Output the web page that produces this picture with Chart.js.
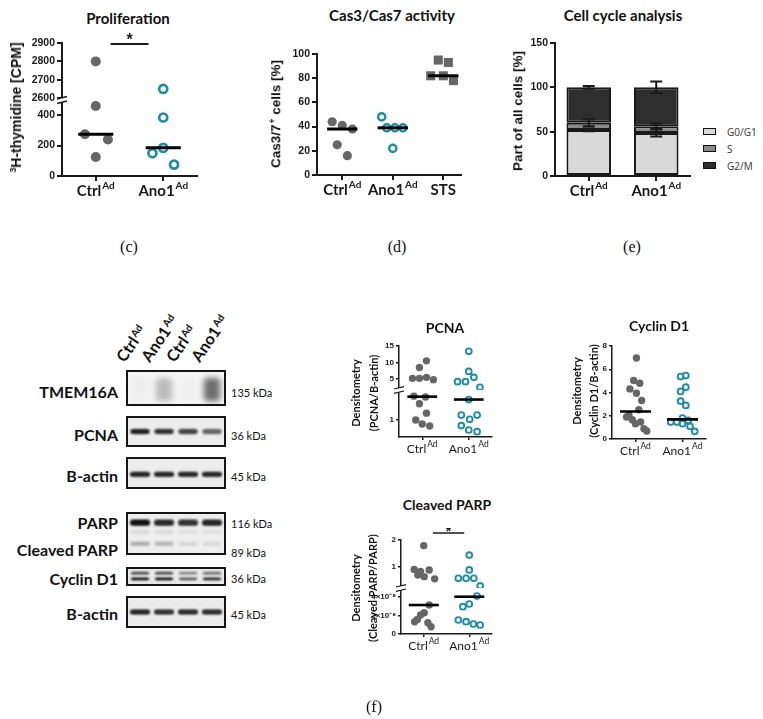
<!DOCTYPE html>
<html><head><meta charset="utf-8">
<script src="https://cdn.jsdelivr.net/npm/chart.js"></script>
<style>
body{margin:0;background:#fff;}
#page{position:relative;width:763px;height:719px;overflow:hidden;font-family:Lato,sans-serif;color:#111}
canvas{position:absolute}
.t{position:absolute;white-space:nowrap;transform:translate(-50%,-50%);line-height:1}
.t sup{font-size:0.62em;vertical-align:0;position:relative;top:-0.55em;margin-left:1px}
</style></head><body><div id="page"></div>
<script>
// ---- data ----
const groups = ['Ctrl', 'Ano1'];
const groupSup = ['Ad', 'Ad'];

// (c) proliferation
const prolifCtrl = [2800, 460, 275, 240, 125];
const prolifCtrlJit = [0, 0, -0.16, 0.18, 0];
const prolifAno = [2650, 385, 185, 150, 75];
const prolifAnoJit = [0, 0, 0, -0.16, 0.16];
const prolifMedian = [275, 186];
const prolifTicksHi = [2600, 2700, 2800, 2900];
const prolifTicksLo = [0, 200, 400];

// (d) Cas3/Cas7
const casGroups = ['Ctrl', 'Ano1', 'STS'];
const casSup = ['Ad', 'Ad', ''];
const casCtrl = [44, 41, 38, 25, 16];
const casCtrlJit = [-0.2, 0, 0.2, -0.1, 0.1];
const casAno = [48, 39, 39, 39, 22];
const casAnoJit = [-0.22, -0.12, 0.04, 0.2, 0];
const casSts = [95, 93, 82, 82, 78];
const casStsJit = [-0.1, 0.1, -0.25, 0, 0.2];
const casMedian = [38, 39, 82];
const casTicks = [0, 20, 40, 60, 80, 100];

// (e) cell cycle
const phases = ['G0/G1', 'S', 'G2/M'];
const g0g1 = [52, 48.5];
const g0g1Err = [1.5, 4];
const sPhase = [8, 7.5];
const sErr = [4, 3];
const g2m = [40, 44];
const g2mErr = [1.5, 6.5];
const cycleTicks = [0, 50, 100, 150];

// (f) western blot band intensities per lane
const lanes = ['Ctrl', 'Ano1', 'Ctrl', 'Ano1'];
const tmemBand = [0.03, 0.25, 0.02, 0.6];
const pcnaBand = [0.95, 0.85, 0.78, 0.62];
const actinBand1 = [0.92, 0.9, 0.9, 0.9];
const parpBand = [1, 0.88, 0.85, 0.9];
const parpFaint = [0.1, 0.1, 0.08, 0.08];
const cleavedBand = [0.35, 0.3, 0.12, 0.1];
const cyclinUpper = [0.65, 0.65, 0.4, 0.5];
const cyclinLower = [0.9, 0.9, 0.6, 0.8];
const actinBand2 = [0.9, 0.85, 0.88, 0.88];

// (f) PCNA
const pcnaCtrl = [10.5, 8.5, 5.2, 5.2, 5.5, 4.8, 2.4, 2.35, 1.95, 1.4, 1.0, 0.76, 0.65];
const pcnaCtrlJit = [0.09, -0.06, -0.21, -0.06, 0.09, 0.24, -0.18, 0.07, -0.06, 0.09, -0.14, 0, 0.16];
const pcnaAno = [13.4, 7.3, 5.5, 4.2, 4.2, 2.5, 2.2, 1.29, 1.29, 1.04, 0.67, 0.41, 0.31];
const pcnaAnoJit = [0, 0, 0.11, -0.24, -0.07, 0.24, 0, -0.16, 0.18, 0.02, -0.16, 0, 0.18];
const pcnaMedian = [2.37, 2.2];
const pcnaTicksHi = [5, 10, 15];
const pcnaTicksLo = [1];

// (f) Cyclin D1
const cycCtrl = [6.97, 5.03, 4.8, 4.31, 3.94, 3.31, 2.51, 2.1, 1.89, 1.66, 1.46, 1.31, 0.89, 0.69];
const cycCtrlJit = [0.02, -0.04, 0.09, -0.12, 0.02, 0.13, 0.07, -0.14, -0.19, -0.07, 0.11, 0, 0.18, 0.24];
const cycAno = [5.46, 5.37, 4.46, 4.09, 3.26, 2.89, 1.8, 1.6, 1.46, 1.46, 1.31, 1.09, 0.66];
const cycAnoJit = [0.07, -0.04, 0.07, -0.04, -0.04, 0.07, 0, 0.12, -0.25, -0.12, 0, 0.16, 0.26];
const cycMedian = [2.37, 1.69];
const cycTicks = [0, 2, 4, 6, 8];

// (f) Cleaved PARP
const parpCtrl = [1.79, 0.91, 0.83, 0.89, 0.7, 0.64, 0.56, 3.13e-8, 2.3e-8, 2.05e-8, 1.58e-8, 1.33e-8, 1.22e-8, 0.79e-8];
const parpCtrlJit = [0, -0.21, -0.07, 0.12, -0.13, 0.01, 0.24, 0.12, 0.01, -0.07, -0.14, -0.2, 0.09, 0.16];
const parpAno = [1.44, 0.89, 0.58, 0.58, 0.58, 0.3, 4.1e-8, 3.24e-8, 2.95e-8, 1.51e-8, 1.33e-8, 1.08e-8, 0.97e-8];
const parpAnoJit = [0, 0, -0.24, -0.07, 0.1, 0.24, 0.17, 0, -0.14, -0.24, -0.07, 0.09, 0.24];
const parpMedian = [3.13e-8, 4.03e-8];
const parpTicksHi = [1, 2];
const parpTicksLo = [0, 2e-8, 4e-8];

// ---- styles ----
const GRAY = '#666666', TEAL = '#1a8ea3', INK = '#1a1a1a';
const page = document.getElementById('page');

function addText(html, x, y, css) {
  const d = document.createElement('div');
  d.className = 't';
  d.innerHTML = html;
  d.style.left = x + 'px';
  d.style.top = y + 'px';
  if (css) d.style.cssText += css;
  page.appendChild(d);
  return d;
}

// ---- plugins ----
const groupLabels = {
  id: 'groupLabels',
  afterDraw(chart, args, o) {
    if (!o.labels) return;
    const ctx = chart.ctx, xs = chart.scales.x;
    const base = chart.chartArea.bottom + o.dy;
    ctx.save();
    ctx.fillStyle = INK;
    ctx.textAlign = 'left';
    ctx.textBaseline = 'alphabetic';
    o.labels.forEach((lab, i) => {
      const x = xs.getPixelForValue(o.values[i]);
      ctx.font = o.font;
      const w1 = ctx.measureText(lab).width;
      ctx.font = o.supFont;
      const w2 = o.sup[i] ? ctx.measureText(o.sup[i]).width + 1 : 0;
      const x0 = x - (w1 + w2) / 2;
      ctx.font = o.font;
      ctx.fillText(lab, x0, base);
      if (o.sup[i]) {
        ctx.font = o.supFont;
        ctx.fillText(o.sup[i], x0 + w1 + 1, base - o.rise);
      }
    });
    ctx.restore();
  }
};

const sigBars = {
  id: 'sigBars',
  afterDraw(chart, args, o) {
    if (!o.bars) return;
    const ctx = chart.ctx, xs = chart.scales.x;
    o.bars.forEach(b => {
      const ys = chart.scales[b.axis];
      const x1 = xs.getPixelForValue(b.x1), x2 = xs.getPixelForValue(b.x2);
      const y = ys.getPixelForValue(b.y);
      ctx.save();
      ctx.strokeStyle = INK;
      ctx.lineWidth = b.lw;
      ctx.beginPath();
      ctx.moveTo(x1, y);
      ctx.lineTo(x2, y);
      ctx.stroke();
      ctx.fillStyle = INK;
      ctx.font = b.font;
      ctx.textAlign = 'center';
      ctx.textBaseline = 'alphabetic';
      ctx.fillText('*', (x1 + x2) / 2, y - b.gap);
      ctx.restore();
    });
  }
};

const axisBreak = {
  id: 'axisBreak',
  afterDraw(chart, args, o) {
    if (!o.on || !chart.scales.y2) return;
    const ctx = chart.ctx;
    const y = chart.scales.y2.bottom;
    const x = chart.chartArea.left;
    ctx.save();
    ctx.fillStyle = '#fff';
    ctx.fillRect(x - 5, y - 2, 9, 4);
    ctx.strokeStyle = INK;
    ctx.lineWidth = o.lw;
    [-2.2, 2.2].forEach(d => {
      ctx.beginPath();
      ctx.moveTo(x - o.len, y + d + 1.2);
      ctx.lineTo(x + o.len, y + d - 1.2);
      ctx.stroke();
    });
    ctx.restore();
  }
};

const stackErr = {
  id: 'stackErr',
  afterDatasetsDraw(chart, args, o) {
    const ctx = chart.ctx, xs = chart.scales.x, ys = chart.scales.y;
    const ds = chart.data.datasets;
    ctx.save();
    ctx.strokeStyle = INK;
    ctx.lineWidth = o.lw;
    ds.forEach((d, di) => {
      d.data.forEach((v, i) => {
        let top = 0;
        for (let k = 0; k <= di; k++) top += ds[k].data[i];
        const e = d.err[i];
        const x = xs.getPixelForValue(i);
        const y0 = ys.getPixelForValue(top - e), y1 = ys.getPixelForValue(top + e);
        ctx.beginPath();
        ctx.moveTo(x, y0); ctx.lineTo(x, y1);
        ctx.moveTo(x - o.cap, y0); ctx.lineTo(x + o.cap, y0);
        ctx.moveTo(x - o.cap, y1); ctx.lineTo(x + o.cap, y1);
        ctx.stroke();
      });
    });
    ctx.restore();
  }
};

const bandPlugin = {
  id: 'bands',
  afterDatasetsDraw(chart) {
    const ctx = chart.ctx;
    chart.data.datasets.forEach((ds, di) => {
      chart.getDatasetMeta(di).data.forEach((pt, i) => {
        const v = ds.data[i].v;
        ctx.save();
        ctx.filter = 'blur(' + ds.blur + 'px)';
        ctx.fillStyle = 'rgba(18,18,18,' + v + ')';
        ctx.beginPath();
        ctx.roundRect(pt.x - ds.bandW / 2, pt.y - ds.bandH / 2, ds.bandW, ds.bandH, Math.min(ds.bandH / 2, 4));
        ctx.fill();
        ctx.restore();
      });
    });
  }
};

// ---- dot plot builder ----
function dotChart(o) {
  const mt = 12, mr = 8;
  const cv = document.createElement('canvas');
  cv.width = o.area.r - o.area.l + o.ml + mr;
  cv.height = o.area.b - o.area.t + mt + o.mb;
  cv.style.left = (o.area.l - o.ml) + 'px';
  cv.style.top = (o.area.t - mt) + 'px';
  page.appendChild(cv);

  const broken = o.axes.length > 1;
  const axisFor = v => (broken && v > o.breakAt) ? 'y2' : 'y';
  const datasets = [];
  o.medians.forEach((m, g) => datasets.push({
    type: 'scatter', showLine: true, pointRadius: 0, borderColor: '#000', borderWidth: o.medW,
    yAxisID: axisFor(m),
    data: [{ x: g + 1 - o.medHalf, y: m }, { x: g + 1 + o.medHalf, y: m }]
  }));
  o.series.forEach((s, g) => {
    ['y', 'y2'].forEach(ax => {
      const pts = s.vals.map((v, i) => ({ x: g + 1 + s.jit[i], y: v })).filter(p => axisFor(p.y) === ax);
      if (pts.length) datasets.push({
        data: pts, yAxisID: ax, pointStyle: s.style || 'circle', pointRadius: s.r,
        backgroundColor: s.fill, borderColor: s.stroke, borderWidth: s.bw
      });
    });
  });

  const gridCfg = { display: true, drawOnChartArea: false, drawTicks: true, tickLength: o.tickLen, color: INK, lineWidth: o.axW };
  const scales = {
    x: {
      type: 'linear', min: o.xMin, max: o.xMax,
      afterFit: s => { s.height = o.mb; },
      afterBuildTicks: s => { s.ticks = o.labels.map((_, i) => ({ value: i + 1 })); },
      grid: gridCfg, border: { display: true, color: INK, width: o.axW },
      ticks: { autoSkip: false, callback: () => '' }
    }
  };
  o.axes.forEach((a, k) => {
    scales[k ? 'y2' : 'y'] = {
      type: 'linear', position: 'left', min: a.min, max: a.max,
      stack: broken ? 'seg' : undefined, stackWeight: a.weight || 1,
      afterFit: s => { s.width = o.ml; },
      afterBuildTicks: s => { s.ticks = a.ticks.map(v => ({ value: v })); },
      grid: gridCfg, border: { display: true, color: INK, width: o.axW },
      ticks: {
        color: INK, padding: 2, autoSkip: false, callback: a.fmt || (v => v),
        font: { family: 'Liberation Sans', weight: 'bold', size: o.tickSize }
      }
    };
  });

  return new Chart(cv, {
    type: 'scatter',
    data: { datasets },
    options: {
      responsive: false, animation: false, events: [],
      layout: { padding: { top: mt, right: mr, left: 0, bottom: 0 } },
      scales,
      plugins: {
        legend: { display: false }, tooltip: { enabled: false },
        groupLabels: { labels: o.labels, sup: o.sup, values: o.labels.map((_, i) => i + 1), font: o.labFont, supFont: o.supFont, dy: o.labDy, rise: o.rise },
        sigBars: { bars: o.sig },
        axisBreak: { on: broken, lw: o.axW * 0.75, len: 5 }
      }
    },
    plugins: [groupLabels, sigBars, axisBreak]
  });
}

const ctrlTop = { fill: GRAY, stroke: GRAY, bw: 0 };
const topRow = {
  ml: 50, mb: 28, tickLen: 5, axW: 2, tickSize: 10.5, medW: 3,
  labFont: 'bold 15px Lato', supFont: 'bold 10px Lato', labDy: 20, rise: 7
};
const botRow = {
  ml: 40, mb: 22, tickLen: 3, axW: 1.5, tickSize: 8, medW: 2.6,
  labFont: '12px Lato', supFont: '8.5px Lato', labDy: 16, rise: 6
};

// (c)
dotChart(Object.assign({}, topRow, {
  area: { l: 62, r: 197, t: 43, b: 176 }, xMin: 0.5, xMax: 2.5,
  labels: groups, sup: groupSup, medians: prolifMedian, medHalf: 0.26, breakAt: 1000,
  axes: [
    { min: 0, max: 500, ticks: prolifTicksLo, weight: 76 },
    { min: 2590, max: 2900, ticks: prolifTicksHi, weight: 57 }
  ],
  series: [
    Object.assign({ vals: prolifCtrl, jit: prolifCtrlJit, r: 5 }, ctrlTop),
    { vals: prolifAno, jit: prolifAnoJit, r: 4, fill: 'rgba(0,0,0,0)', stroke: TEAL, bw: 2.7 }
  ],
  sig: [{ axis: 'y2', x1: 1.22, x2: 1.78, y: 2895, lw: 2, gap: -1, font: 'bold 16px Liberation Sans' }]
}));

// (d)
dotChart(Object.assign({}, topRow, {
  area: { l: 317, r: 461, t: 54, b: 175 }, xMin: 0.5, xMax: 3.35,
  labels: casGroups, sup: casSup, medians: casMedian, medHalf: 0.3,
  axes: [{ min: 0, max: 100, ticks: casTicks }],
  series: [
    Object.assign({ vals: casCtrl, jit: casCtrlJit, r: 4.6 }, ctrlTop),
    { vals: casAno, jit: casAnoJit, r: 3.6, fill: 'rgba(0,0,0,0)', stroke: TEAL, bw: 2.4 },
    Object.assign({ vals: casSts, jit: casStsJit, r: 6.4, style: 'rect' }, ctrlTop)
  ]
}));

// (e) stacked bars
(function () {
  const area = { l: 555, r: 690, t: 43, b: 176 }, ml = 50, mb = 28, mt = 12, mr = 8;
  const cv = document.createElement('canvas');
  cv.width = area.r - area.l + ml + mr;
  cv.height = area.b - area.t + mt + mb;
  cv.style.left = (area.l - ml) + 'px';
  cv.style.top = (area.t - mt) + 'px';
  page.appendChild(cv);
  const fills = ['#d9d9d9', '#8a8a8a', '#2e2e2e'];
  const vals = [g0g1, sPhase, g2m], errs = [g0g1Err, sErr, g2mErr];
  const gridCfg = { display: true, drawOnChartArea: false, drawTicks: true, tickLength: 5, color: INK, lineWidth: 2, offset: false };
  new Chart(cv, {
    type: 'bar',
    data: {
      labels: groups,
      datasets: phases.map((p, k) => ({
        label: p, data: vals[k], err: errs[k], backgroundColor: fills[k],
        borderColor: INK, borderWidth: 2, borderSkipped: false,
        barPercentage: 0.66, categoryPercentage: 1
      }))
    },
    options: {
      responsive: false, animation: false, events: [],
      layout: { padding: { top: mt, right: mr, left: 0, bottom: 0 } },
      scales: {
        x: { stacked: true, offset: true, afterFit: s => { s.height = mb; }, grid: gridCfg,
          border: { color: INK, width: 2 }, ticks: { callback: () => '' } },
        y: { stacked: true, min: 0, max: 150, afterFit: s => { s.width = ml; },
          afterBuildTicks: s => { s.ticks = cycleTicks.map(v => ({ value: v })); },
          grid: gridCfg, border: { color: INK, width: 2 },
          ticks: { color: INK, padding: 2, autoSkip: false, font: { family: 'Liberation Sans', weight: 'bold', size: 10.5 } } }
      },
      plugins: {
        legend: { display: false }, tooltip: { enabled: false },
        groupLabels: { labels: groups, sup: groupSup, values: [0, 1], font: topRow.labFont, supFont: topRow.supFont, dy: 20, rise: 7 },
        stackErr: { lw: 2, cap: 6 }
      }
    },
    plugins: [groupLabels, stackErr]
  });
  phases.forEach((p, k) => {
    const y = 132 + k * 17;
    const sw = document.createElement('div');
    sw.style.cssText = 'position:absolute;left:703px;top:' + (y - 4) + 'px;width:11px;height:5px;border:1.5px solid #111;background:' + fills[k];
    page.appendChild(sw);
    addText(p, 727, y, 'transform:translate(0,-50%);font-size:10px;color:#333;font-family:"Open Sans",sans-serif');
  });
})();

// (f) PCNA
dotChart(Object.assign({}, botRow, {
  area: { l: 399, r: 492, t: 346, b: 437 }, xMin: 0.5, xMax: 2.5,
  labels: groups, sup: groupSup, medians: pcnaMedian, medHalf: 0.32, breakAt: 2.45,
  axes: [
    { min: 0, max: 2.76, ticks: pcnaTicksLo, weight: 47 },
    { min: 1.67, max: 15, ticks: pcnaTicksHi, weight: 44 }
  ],
  series: [
    { vals: pcnaCtrl, jit: pcnaCtrlJit, r: 3.7, fill: GRAY, stroke: GRAY, bw: 0 },
    { vals: pcnaAno, jit: pcnaAnoJit, r: 2.9, fill: 'rgba(0,0,0,0)', stroke: TEAL, bw: 1.9 }
  ]
}));

// (f) Cyclin D1
dotChart(Object.assign({}, botRow, {
  area: { l: 612, r: 706, t: 346, b: 439 }, xMin: 0.5, xMax: 2.5,
  labels: groups, sup: groupSup, medians: cycMedian, medHalf: 0.33,
  axes: [{ min: 0, max: 8, ticks: cycTicks }],
  series: [
    { vals: cycCtrl, jit: cycCtrlJit, r: 3.7, fill: GRAY, stroke: GRAY, bw: 0 },
    { vals: cycAno, jit: cycAnoJit, r: 2.9, fill: 'rgba(0,0,0,0)', stroke: TEAL, bw: 1.9 }
  ]
}));

// (f) Cleaved PARP
dotChart(Object.assign({}, botRow, {
  area: { l: 401, r: 492, t: 540, b: 634 }, xMin: 0.5, xMax: 2.5,
  labels: groups, sup: groupSup, medians: parpMedian, medHalf: 0.33, breakAt: 0.01,
  axes: [
    { min: 0, max: 4.97e-8, ticks: parpTicksLo, weight: 46, fmt: v => v === 0 ? '0' : Math.round(v / 1e-8) + '×10⁻⁸' },
    { min: 0.22, max: 2, ticks: parpTicksHi, weight: 48 }
  ],
  series: [
    { vals: parpCtrl, jit: parpCtrlJit, r: 3.7, fill: GRAY, stroke: GRAY, bw: 0 },
    { vals: parpAno, jit: parpAnoJit, r: 2.9, fill: 'rgba(0,0,0,0)', stroke: TEAL, bw: 1.9 }
  ],
  sig: [{ axis: 'y2', x1: 1.2, x2: 1.89, y: 2.26, lw: 1.6, gap: -3, font: 'bold 14px Liberation Sans' }]
}));

// ---- western blot strips ----
function blotStrip(box, rows, bg) {
  const cv = document.createElement('canvas');
  cv.width = box.w - 4;
  cv.height = box.h - 4;
  cv.style.cssText = 'left:' + box.l + 'px;top:' + box.t + 'px;border:2px solid #151515;background:' + bg;
  page.appendChild(cv);
  return new Chart(cv, {
    type: 'scatter',
    data: { datasets: rows.map(r => ({
      data: r.vals.map((v, i) => ({ x: i + 1, y: r.pos, v })),
      pointRadius: 0, bandW: r.w, bandH: r.h, blur: r.blur
    })) },
    options: {
      responsive: false, animation: false, events: [], layout: { padding: 0 },
      scales: { x: { display: false, min: 0.5, max: 4.5 }, y: { display: false, min: 0, max: 1, reverse: true } },
      plugins: { legend: { display: false }, tooltip: { enabled: false } }
    },
    plugins: [bandPlugin]
  });
}

const tmemChart = blotStrip({ l: 126, t: 370, w: 104, h: 40 },
  [{ vals: tmemBand, pos: 0.55, w: 17, h: 26, blur: 3 }], '#f4f4f4');
blotStrip({ l: 126, t: 416, w: 104, h: 35 }, [{ vals: pcnaBand, pos: 0.5, w: 20, h: 6, blur: 1 }], '#ececec');
blotStrip({ l: 126, t: 457, w: 104, h: 36 }, [{ vals: actinBand1, pos: 0.55, w: 21, h: 6, blur: 1 }], '#ececec');
blotStrip({ l: 126, t: 512, w: 104, h: 47 }, [
  { vals: parpBand, pos: 0.22, w: 21, h: 7, blur: 1 },
  { vals: parpFaint, pos: 0.46, w: 20, h: 4, blur: 1.5 },
  { vals: cleavedBand, pos: 0.76, w: 20, h: 4, blur: 1.5 }
], '#eeeeee');
blotStrip({ l: 126, t: 567, w: 104, h: 23 }, [
  { vals: cyclinUpper, pos: 0.28, w: 19, h: 4, blur: 1 },
  { vals: cyclinLower, pos: 0.66, w: 19, h: 4, blur: 1 }
], '#e8e8e8');
blotStrip({ l: 126, t: 596, w: 104, h: 36 }, [{ vals: actinBand2, pos: 0.5, w: 21, h: 6, blur: 1 }], '#ececec');

// lane labels, rotated
lanes.forEach((lab, i) => {
  const x = 126 + 2 + tmemChart.scales.x.getPixelForValue(i + 1);
  addText(lab + '<sup>Ad</sup>', x - 12, 346,
    'transform:rotate(-56deg);transform-origin:0 100%;font-weight:bold;font-size:16px;line-height:17px');
});

// blot row labels and sizes
const rowLabels = [['TMEM16A', 392], ['PCNA', 435], ['B-actin', 476], ['PARP', 523], ['Cleaved PARP', 550], ['Cyclin D1', 579], ['B-actin', 614]];
rowLabels.forEach(r => addText(r[0], 118, r[1], 'transform:translate(-100%,-50%);font-weight:bold;font-size:16px'));
const kdaLabels = [['135 kDa', 392], ['36 kDa', 435], ['45 kDa', 476], ['116 kDa', 523], ['89 kDa', 552], ['36 kDa', 578], ['45 kDa', 614]];
kdaLabels.forEach(r => addText(r[0], 231, r[1], 'transform:translate(0,-50%);font-size:11px'));

// ---- titles ----
const bold = 'font-weight:bold;';
addText('Proliferation', 128, 18, bold + 'font-size:15px');
addText('Cas3/Cas7 activity', 392, 15, bold + 'font-size:15px');
addText('Cell cycle analysis', 623, 15, bold + 'font-size:15px');
addText('PCNA', 445, 328, bold + 'font-size:14px');
addText('Cyclin D1', 659, 326, bold + 'font-size:14px');
addText('Cleaved PARP', 447, 505, bold + 'font-size:14px');

const rot = 'transform:translate(-50%,-50%) rotate(-90deg);';
const axFont = 'font-family:"Liberation Sans",sans-serif;font-weight:bold;';
addText('<sup>3</sup>H-thymidine [CPM]', 16, 108, rot + axFont + 'font-size:14px');
addText('Cas3/7<sup>+</sup> cells [%]', 276, 114, rot + axFont + 'font-size:13.5px');
addText('Part of all cells [%]', 518, 111, rot + axFont + 'font-size:13.5px');
addText('Densitometry', 355, 393, rot + bold + 'font-size:11px');
addText('(PCNA/B-actin)', 373, 393, rot + bold + 'font-size:11px');
addText('Densitometry', 576, 391, rot + bold + 'font-size:11px');
addText('(Cyclin D1/B-actin)', 593, 391, rot + bold + 'font-size:11px');
addText('Densitometry', 355, 588, rot + bold + 'font-size:11px');
addText('(Cleaved PARP/PARP)', 372, 588, rot + bold + 'font-size:11px');

const capFont = 'font-family:"Liberation Serif",serif;font-size:16px;color:#111;';
addText('(c)', 129, 247, capFont);
addText('(d)', 397, 247, capFont);
addText('(e)', 632, 247, capFont);
addText('(f)', 374, 707, capFont);
</script>
</body></html>
